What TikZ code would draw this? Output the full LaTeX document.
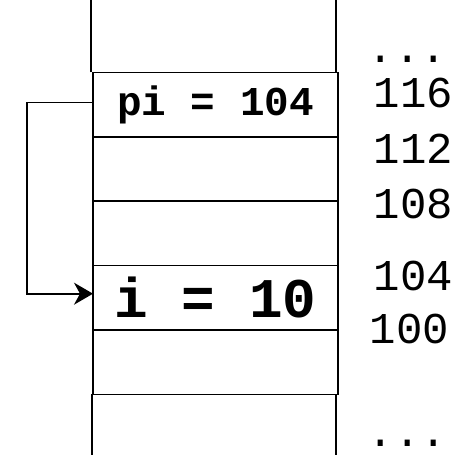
\documentclass[tikz,border=0pt]{standalone}
\usepackage{fontspec}
\newfontfamily\codefont{Liberation Mono}
\usepackage{tikz}
\usetikzlibrary{positioning,arrows.meta}

\begin{document}
\begin{tikzpicture}[
    x=1pt, y=-1pt,
    line width=1.6pt,
    node distance=0pt,
    cell/.style={
        draw,
        minimum width=245pt,
        minimum height=64.4pt,
        inner sep=0pt,
        outer sep=0pt
    },
    small/.style={font=\codefont\bfseries\fontsize{41}{41}\selectfont},
    big/.style={font=\codefont\bfseries\fontsize{56}{56}\selectfont},
    addr/.style={anchor=base west, inner sep=0pt, font=\codefont\fontsize{44}{44}\selectfont},
    ptr/.style={-{Stealth[length=19pt,width=22pt,inset=6pt]}}
]
\useasboundingbox (0,0) rectangle (458,455);

% memory cells
\node[cell, small] (pi) at (215.5,104.5) {pi = 104};
\node[cell, below=of pi] (c112) {};
\node[cell, below=of c112] (c108) {};
\node[cell, big, below=of c108] (i) {i = 10};
\node[cell, below=of i] (c100) {};

% rest of the column
\draw ([xshift=-2pt]pi.north west) -- ++(0,-73);
\draw ([xshift=-2pt]pi.north east) -- ++(0,-73);
\draw ([xshift=-1pt]c100.south west) -- ++(0,62);
\draw ([xshift=-2pt]c100.south east) -- ++(0,62);

% addresses
\node[addr] (dtop) at (367,62) {...};
\node[addr] (a116) at (373,107) {116};
\node[addr] (a112) at (373,163) {112};
\node[addr] (a108) at (373,218) {108};
\node[addr] (a104) at (373,290) {104};
\node[addr] (a100) at (369,343) {100};
\node[addr] (dbot) at (367,446) {...};

% pointer
\draw[ptr] ([yshift=2pt]pi.west) -- ++(-66,0) |- ([yshift=4pt]i.west);

\end{tikzpicture}
\end{document}
